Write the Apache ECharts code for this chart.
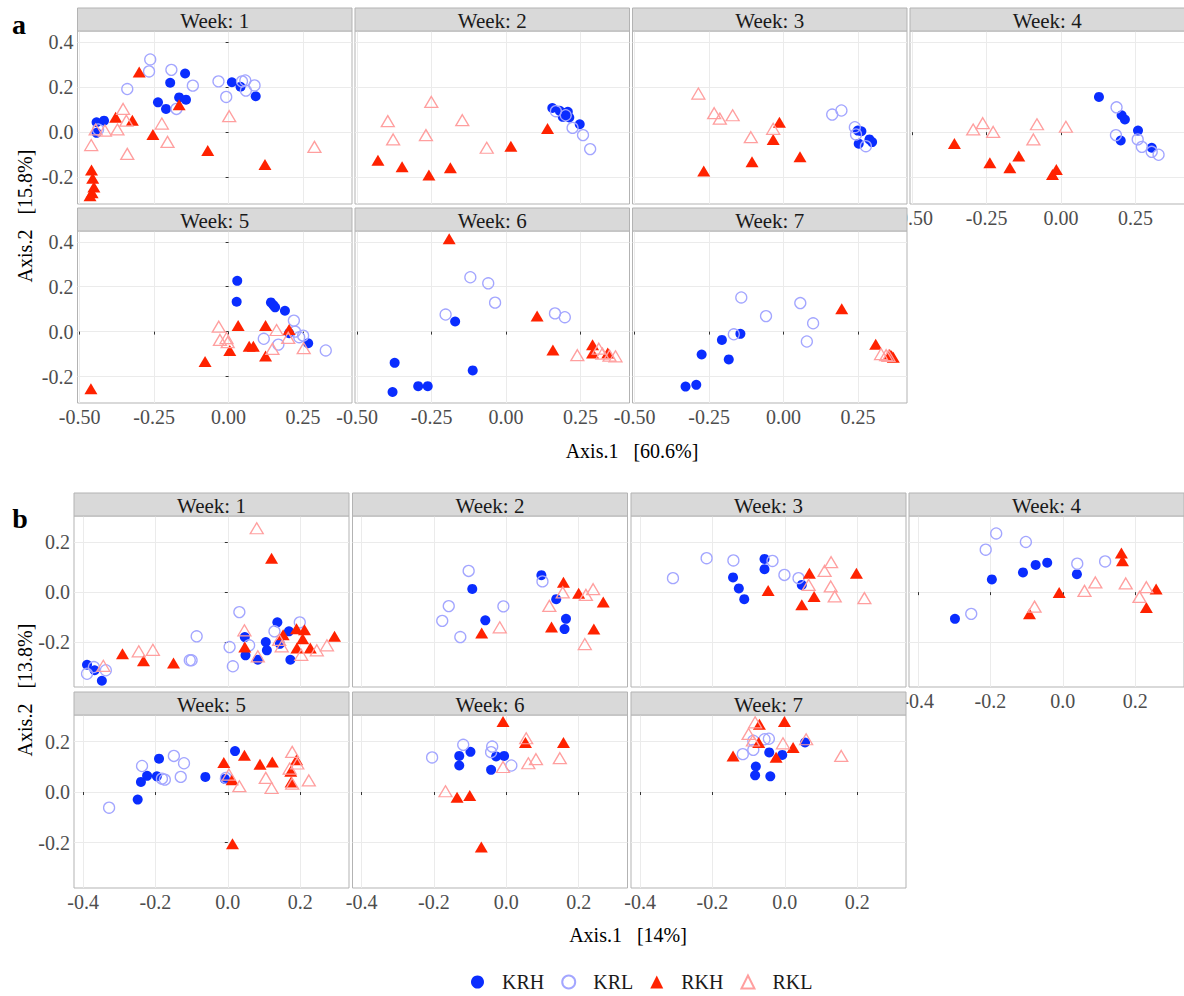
<!DOCTYPE html>
<html><head><meta charset="utf-8">
<script src="https://cdn.jsdelivr.net/npm/echarts@6/dist/echarts.min.js"></script>
<style>
html,body{margin:0;padding:0;background:#fff;font-family:'Liberation Serif',serif}
#c{width:1184px;height:996px}
#c text{font-family:'Liberation Serif','Times New Roman',serif !important}
</style>
</head><body><div id="c"></div>
<script>
// ---------- labels / ticks ----------
const weekLabels = ['Week: 1','Week: 2','Week: 3','Week: 4','Week: 5','Week: 6','Week: 7'];
const groups = ['KRH','KRL','RKH','RKL'];
const aXTicks = [-0.5,-0.25,0,0.25];
const aYTicks = [-0.2,0,0.2,0.4];
const bXTicks = [-0.4,-0.2,0,0.2];
const bYTicks = [-0.2,0,0.2];
const aXTitle = 'Axis.1\u00a0\u00a0\u00a0[60.6%]';
const aYTitle = 'Axis.2\u00a0\u00a0\u00a0[15.8%]';
const bXTitle = 'Axis.1\u00a0\u00a0\u00a0[14%]';
const bYTitle = 'Axis.2\u00a0\u00a0\u00a0[13.8%]';
const aXRange = [-0.507, 0.414], aYRange = [-0.318, 0.448];
const bXRange = [-0.425, 0.335], bYRange = [-0.380, 0.305];

// ---------- panel a data ----------
const aW1_KRH = [[-0.443,0.044],[-0.418,0.051],[-0.443,-0.003],[-0.196,0.219],[-0.146,0.260],[-0.237,0.132],[-0.210,0.103],[-0.166,0.154],[-0.143,0.144],[0.011,0.221],[0.040,0.201],[0.091,0.159]];
const aW1_KRL = [[-0.263,0.322],[-0.267,0.269],[-0.340,0.191],[-0.192,0.276],[-0.120,0.206],[-0.175,0.103],[-0.034,0.225],[-0.008,0.156],[0.045,0.225],[0.056,0.229],[0.058,0.184],[0.087,0.207],[-0.438,0.012]];
const aW1_RKH = [[-0.300,0.266],[-0.379,0.066],[-0.323,0.053],[-0.166,0.122],[-0.254,-0.010],[-0.070,-0.081],[0.122,-0.143],[-0.460,-0.168],[-0.456,-0.204],[-0.452,-0.243],[-0.458,-0.268],[-0.465,-0.282]];
const aW1_RKL = [[-0.354,0.103],[-0.343,0.051],[-0.415,0.007],[-0.373,0.012],[-0.446,0.012],[-0.461,-0.057],[-0.340,-0.096],[-0.224,0.038],[-0.205,-0.043],[0.002,0.071],[0.288,-0.065]];

const aW2_KRH = [[0.155,0.107],[0.180,0.095],[0.195,0.085],[0.207,0.090],[0.190,0.068],[0.212,0.065],[0.247,0.035]];
const aW2_KRL = [[0.167,0.093],[0.200,0.075],[0.223,0.019],[0.258,-0.013],[0.282,-0.075]];
const aW2_RKH = [[-0.430,-0.124],[-0.349,-0.153],[-0.259,-0.190],[-0.187,-0.157],[0.016,-0.062],[0.139,0.016]];
const aW2_RKL = [[-0.397,0.049],[-0.379,-0.032],[-0.251,0.134],[-0.269,-0.013],[-0.147,0.053],[-0.065,-0.069]];

const aW3_KRH = [[0.249,0.007],[0.261,0.004],[0.252,-0.051],[0.288,-0.032],[0.297,-0.044]];
const aW3_KRL = [[0.163,0.078],[0.194,0.096],[0.239,0.022],[0.243,-0.010],[0.276,-0.062]];
const aW3_RKH = [[-0.014,0.044],[-0.035,-0.032],[-0.106,-0.131],[0.055,-0.109],[-0.268,-0.172]];
const aW3_RKL = [[-0.286,0.171],[-0.233,0.084],[-0.214,0.060],[-0.171,0.075],[-0.110,-0.022],[-0.035,0.015]];

const aW4_KRH = [[0.127,0.156],[0.203,0.075],[0.214,0.056],[0.258,0.007],[0.200,-0.037],[0.304,-0.069]];
const aW4_KRL = [[0.186,0.110],[0.184,-0.013],[0.257,-0.032],[0.271,-0.065],[0.304,-0.087],[0.327,-0.100]];
const aW4_RKH = [[-0.358,-0.050],[-0.239,-0.135],[-0.142,-0.106],[-0.172,-0.157],[-0.016,-0.165],[-0.029,-0.187]];
const aW4_RKL = [[-0.295,0.012],[-0.263,0.040],[-0.228,0.001],[-0.081,0.035],[-0.093,-0.032],[0.016,0.024]];

const aW5_KRH = [[0.029,0.226],[0.027,0.133],[0.142,0.130],[0.150,0.118],[0.156,0.108],[0.189,0.093],[0.203,-0.007],[0.267,-0.052]];
const aW5_KRL = [[0.219,0.049],[0.223,0.000],[0.237,-0.025],[0.250,-0.018],[0.118,-0.032],[0.167,-0.058],[0.326,-0.084]];
const aW5_RKH = [[-0.462,-0.254],[-0.079,-0.133],[0.004,-0.084],[0.032,0.027],[0.069,-0.065],[0.083,-0.065],[0.124,0.027],[0.124,-0.109],[0.203,0.009]];
const aW5_RKL = [[-0.033,0.022],[-0.029,-0.037],[-0.007,-0.029],[-0.003,-0.047],[0.161,0.007],[0.147,-0.077],[0.200,-0.028],[0.252,-0.074]];

const aW6_KRH = [[-0.171,0.045],[-0.374,-0.139],[-0.381,-0.269],[-0.295,-0.243],[-0.263,-0.243],[-0.112,-0.173]];
const aW6_KRL = [[-0.120,0.242],[-0.060,0.215],[-0.037,0.129],[-0.203,0.076],[0.164,0.081],[0.197,0.064]];
const aW6_RKH = [[-0.191,0.414],[0.104,0.070],[0.157,-0.082],[0.290,-0.059],[0.290,-0.095],[0.341,-0.095]];
const aW6_RKL = [[0.239,-0.105],[0.311,-0.076],[0.323,-0.098],[0.347,-0.107],[0.367,-0.110]];

const aW7_KRH = [[-0.145,-0.010],[-0.207,-0.037],[-0.275,-0.102],[-0.184,-0.124],[-0.293,-0.237],[-0.329,-0.245]];
const aW7_KRL = [[-0.142,0.152],[0.056,0.127],[-0.059,0.069],[0.099,0.037],[-0.167,-0.012],[0.078,-0.044]];
const aW7_RKH = [[0.195,0.102],[0.309,-0.056],[0.356,-0.102],[0.368,-0.114],[0.362,-0.108]];
const aW7_RKL = [[0.327,-0.100],[0.344,-0.105],[0.352,-0.108]];

// ---------- panel b data ----------
const bW1_KRH = [[-0.389,-0.291],[-0.368,-0.313],[-0.348,-0.355],[0.047,-0.180],[0.049,-0.253],[0.083,-0.271],[0.105,-0.200],[0.108,-0.233],[0.137,-0.121],[0.144,-0.207],[0.169,-0.157],[0.173,-0.271]];
const bW1_KRL = [[-0.389,-0.327],[-0.370,-0.300],[-0.337,-0.313],[-0.086,-0.177],[-0.105,-0.273],[-0.100,-0.273],[0.005,-0.220],[0.014,-0.297],[0.032,-0.080],[0.059,-0.213],[0.129,-0.157],[0.199,-0.121]];
const bW1_RKH = [[-0.291,-0.247],[-0.233,-0.275],[-0.150,-0.284],[0.121,0.136],[0.047,-0.220],[0.153,-0.171],[0.190,-0.147],[0.212,-0.151],[0.207,-0.187],[0.191,-0.224],[0.228,-0.224],[0.295,-0.177]];
const bW1_RKL = [[0.080,0.256],[-0.344,-0.295],[-0.246,-0.237],[-0.207,-0.231],[0.046,-0.153],[0.083,-0.257],[0.142,-0.191],[0.149,-0.217],[0.203,-0.251],[0.246,-0.233],[0.274,-0.213]];

const bW2_KRH = [[0.097,0.068],[-0.094,0.013],[0.138,-0.028],[-0.058,-0.113],[0.165,-0.107],[0.161,-0.148]];
const bW2_KRL = [[-0.104,0.085],[0.100,0.043],[-0.159,-0.056],[-0.008,-0.057],[-0.177,-0.115],[-0.127,-0.180]];
const bW2_RKH = [[0.158,0.040],[0.200,-0.004],[0.268,-0.040],[0.125,-0.140],[-0.068,-0.164],[0.242,-0.148]];
const bW2_RKL = [[0.156,-0.001],[0.119,-0.055],[-0.018,-0.141],[0.220,-0.011],[0.240,0.012],[0.217,-0.208]];

const bW3_KRH = [[-0.056,0.133],[-0.056,0.092],[-0.143,0.059],[-0.127,0.015],[-0.112,-0.028],[0.047,0.029]];
const bW3_KRL = [[-0.309,0.056],[-0.216,0.136],[-0.142,0.127],[-0.034,0.125],[-0.001,0.069],[0.038,0.056]];
const bW3_RKH = [[0.068,0.076],[0.198,0.076],[-0.046,0.007],[0.081,-0.017],[0.047,-0.051]];
const bW3_RKL = [[0.128,0.120],[0.110,0.085],[0.066,0.029],[0.127,0.023],[0.138,-0.017],[0.220,-0.024]];

const bW4_KRH = [[-0.196,0.051],[-0.110,0.079],[-0.075,0.109],[-0.043,0.118],[0.039,0.072],[-0.298,-0.107]];
const bW4_KRL = [[-0.184,0.235],[-0.213,0.170],[-0.102,0.201],[0.040,0.114],[0.117,0.123],[-0.253,-0.087]];
const bW4_RKH = [[0.162,0.157],[0.165,0.126],[0.258,0.013],[0.231,-0.062],[-0.010,-0.001],[-0.092,-0.087]];
const bW4_RKL = [[-0.078,-0.058],[0.060,0.005],[0.090,0.039],[0.174,0.035],[0.231,0.020],[0.212,-0.019]];

const bW5_KRH = [[-0.249,-0.030],[-0.240,0.040],[-0.223,0.064],[-0.196,0.062],[-0.190,0.132],[-0.062,0.060],[-0.008,0.052],[0.020,0.162]];
const bW5_KRL = [[-0.328,-0.062],[-0.237,0.103],[-0.182,0.053],[-0.174,0.049],[-0.149,0.143],[-0.121,0.114],[-0.130,0.060],[-0.005,0.056]];
const bW5_RKH = [[-0.011,0.117],[0.046,0.146],[0.012,0.049],[0.089,0.110],[0.123,0.119],[0.174,0.082],[0.175,0.040],[0.190,0.128],[0.013,-0.205]];
const bW5_RKL = [[0.003,0.069],[0.032,0.023],[0.105,0.056],[0.121,0.016],[0.178,0.159],[0.171,0.093],[0.192,0.113],[0.178,0.033],[0.224,0.046]];

const bW6_KRH = [[-0.130,0.143],[-0.130,0.105],[-0.099,0.159],[-0.028,0.141],[-0.006,0.143],[-0.042,0.088]];
const bW6_KRL = [[-0.205,0.137],[-0.119,0.187],[-0.039,0.180],[-0.042,0.158],[0.014,0.105]];
const bW6_RKH = [[-0.009,0.279],[0.053,0.196],[0.158,0.196],[-0.136,-0.021],[-0.101,-0.014],[-0.069,-0.218]];
const bW6_RKL = [[0.055,0.213],[-0.009,0.099],[0.061,0.114],[0.082,0.130],[0.148,0.134],[-0.168,0.003]];

const bW7_KRH = [[-0.043,0.157],[-0.007,0.147],[0.056,0.196],[-0.080,0.101],[-0.082,0.066],[-0.040,0.062]];
const bW7_KRL = [[-0.116,0.150],[-0.087,0.167],[-0.056,0.209],[-0.044,0.211],[-0.087,0.203]];
const bW7_RKH = [[-0.070,0.268],[-0.001,0.279],[-0.072,0.196],[0.023,0.176],[-0.143,0.143],[-0.024,0.138]];
const bW7_RKL = [[-0.082,0.276],[-0.100,0.230],[-0.088,0.204],[-0.005,0.193],[0.059,0.209],[0.156,0.143]];

const aData = [
  {KRH:aW1_KRH,KRL:aW1_KRL,RKH:aW1_RKH,RKL:aW1_RKL},
  {KRH:aW2_KRH,KRL:aW2_KRL,RKH:aW2_RKH,RKL:aW2_RKL},
  {KRH:aW3_KRH,KRL:aW3_KRL,RKH:aW3_RKH,RKL:aW3_RKL},
  {KRH:aW4_KRH,KRL:aW4_KRL,RKH:aW4_RKH,RKL:aW4_RKL},
  {KRH:aW5_KRH,KRL:aW5_KRL,RKH:aW5_RKH,RKL:aW5_RKL},
  {KRH:aW6_KRH,KRL:aW6_KRL,RKH:aW6_RKH,RKL:aW6_RKL},
  {KRH:aW7_KRH,KRL:aW7_KRL,RKH:aW7_RKH,RKL:aW7_RKL}
];
const bData = [
  {KRH:bW1_KRH,KRL:bW1_KRL,RKH:bW1_RKH,RKL:bW1_RKL},
  {KRH:bW2_KRH,KRL:bW2_KRL,RKH:bW2_RKH,RKL:bW2_RKL},
  {KRH:bW3_KRH,KRL:bW3_KRL,RKH:bW3_RKH,RKL:bW3_RKL},
  {KRH:bW4_KRH,KRL:bW4_KRL,RKH:bW4_RKH,RKL:bW4_RKL},
  {KRH:bW5_KRH,KRL:bW5_KRL,RKH:bW5_RKH,RKL:bW5_RKL},
  {KRH:bW6_KRH,KRL:bW6_KRL,RKH:bW6_RKH,RKL:bW6_RKL},
  {KRH:bW7_KRH,KRL:bW7_KRL,RKH:bW7_RKH,RKL:bW7_RKL}
];

// ---------- styling / layout ----------
const FONT = 'Liberation Serif';
const STRIP_H = 23;
const symbolStyles = {
  KRH: {symbol:'circle', symbolSize:10, itemStyle:{color:'#0a2dff', borderWidth:0, opacity:1}},
  KRL: {symbol:'circle', symbolSize:11, itemStyle:{color:'rgba(255,255,255,0)', borderColor:'#a3a6ff', borderWidth:1.3, opacity:1}},
  RKH: {symbol:'triangle', symbolSize:[13,11], itemStyle:{color:'#ff2200', borderWidth:0, opacity:1}},
  RKL: {symbol:'triangle', symbolSize:[13,11], itemStyle:{color:'rgba(255,255,255,0)', borderColor:'#ff9f9f', borderWidth:1.3, opacity:1}}
};
const layouts = {
  a: {lefts:[77.5,355,632.5,910], width:274.5, tops:[31,231], heights:[173,172],
      xr:aXRange, yr:aYRange, xt:aXTicks, yt:aYTicks, xd:2, yd:1, data:aData},
  b: {lefts:[74,352.5,631,909], width:275, tops:[516,715], heights:[171,173],
      xr:bXRange, yr:bYRange, xt:bXTicks, yt:bYTicks, xd:1, yd:1, data:bData}
};

const grids=[], xAxes=[], yAxes=[], series=[], graphics=[];
['a','b'].forEach(p=>{
  const L = layouts[p];
  for (let w=0; w<7; w++){
    const row = w<4?0:1, col = w<4?w:w-4;
    const left=L.lefts[col], top=L.tops[row], height=L.heights[row], width=L.width;
    const idx = grids.length;
    const showX = (row===1) || (w===3);
    const showY = (col===0);
    grids.push({left, top, width, height, show:true, backgroundColor:'#fff',
      borderColor:'#b3b3b3', borderWidth:1, containLabel:false, outerBoundsMode:'none'});
    xAxes.push({gridIndex:idx, type:'value', min:L.xr[0], max:L.xr[1],
      axisLine:{show:false},
      axisTick:{show:showX, length:3, lineStyle:{color:'#333', width:1}, customValues:L.xt},
      axisLabel:{show:showX, customValues:L.xt, margin:4, color:'#4d4d4d', fontFamily:FONT, fontSize:20,
        formatter:(v)=>Number(v).toFixed(L.xd)},
      splitLine:{show:true, lineStyle:{color:'#ebebeb', width:1}}});
    yAxes.push({gridIndex:idx, type:'value', min:L.yr[0], max:L.yr[1],
      axisLine:{show:false},
      axisTick:{show:showY, length:3, lineStyle:{color:'#333', width:1}, customValues:L.yt},
      axisLabel:{show:showY, customValues:L.yt, margin:4, color:'#4d4d4d', fontFamily:FONT, fontSize:20,
        formatter:(v)=>Number(v).toFixed(L.yd)},
      splitLine:{show:true, lineStyle:{color:'#ebebeb', width:1}}});
    groups.forEach((g,gi)=>{
      const st = symbolStyles[g];
      series.push({type:'scatter', name:g, xAxisIndex:idx, yAxisIndex:idx,
        data:L.data[w][g], symbol:st.symbol, symbolSize:st.symbolSize,
        itemStyle:st.itemStyle, emphasis:{disabled:true}, silent:true, z:2+gi});
    });
    // strip
    graphics.push({type:'rect', shape:{x:left, y:top-STRIP_H, width, height:STRIP_H},
      style:{fill:'#d9d9d9', stroke:'#b3b3b3', lineWidth:1}, silent:true, z:10});
    graphics.push({type:'text', x:left+width/2, y:top-STRIP_H/2+1,
      style:{text:weekLabels[w], fill:'#1a1a1a', fontFamily:FONT, fontSize:21, textAlign:'center', textVerticalAlign:'middle'},
      silent:true, z:11});
  }
});

// panel letters and axis titles
function txt(x, y, text, size, weight, rot){
  const o = {type:'text', x, y, silent:true, z:11,
    style:{text, fill:'#000', fontFamily:FONT, fontSize:size, fontWeight:weight, textAlign:'center', textVerticalAlign:'middle'}};
  if (rot) o.rotation = rot;
  return o;
}
graphics.push(txt(19, 24, 'a', 28, 'bold'));
graphics.push(txt(20, 518, 'b', 28, 'bold'));
graphics.push(txt(632, 451, aXTitle, 20, 'normal'));
graphics.push(txt(628, 935, bXTitle, 20, 'normal'));
graphics.push(txt(25, 216, aYTitle, 20, 'normal', Math.PI/2));
graphics.push(txt(25, 690, bYTitle, 20, 'normal', Math.PI/2));

const chart = echarts.init(document.getElementById('c'), null, {renderer:'svg', width:1184, height:996});
chart.setOption({
  animation:false,
  backgroundColor:'#fff',
  textStyle:{fontFamily:FONT},
  grid:grids, xAxis:xAxes, yAxis:yAxes, series,
  graphic:{elements:graphics},
  legend:{data:groups, left:471, top:972, padding:0, itemWidth:13, itemHeight:13, itemGap:17,
    selectedMode:false, textStyle:{fontFamily:FONT, fontSize:20, color:'#1a1a1a', padding:[0,0,0,13]}}
});
</script></body></html>
